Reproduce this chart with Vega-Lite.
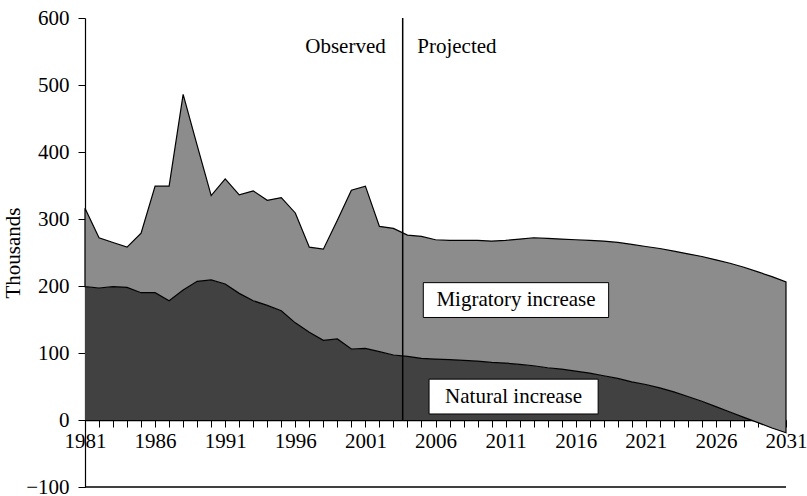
{
  "$schema": "https://vega.github.io/schema/vega-lite/v6.json",
  "autosize": "none",
  "width": 701,
  "height": 469,
  "padding": {"left": 85, "top": 18, "right": 21, "bottom": 9},
  "background": "white",
  "config": {
    "view": {"stroke": null},
    "font": "Liberation Serif",
    "axis": {"labelFont": "Liberation Serif", "titleFont": "Liberation Serif", "labelColor": "black", "titleColor": "black", "domainColor": "black", "tickColor": "black", "grid": false, "labelFontSize": 21, "titleFontSize": 21, "titleFontWeight": "normal"},
    "axisX": {"orient": "bottom", "offset": -67, "zindex": 1, "tickSize": 7, "labelPadding": 3, "domainWidth": 1.5, "labelFlush": false, "labelOverlap": false, "tickCount": 50},
    "axisY": {"tickSize": 7, "labelPadding": 9, "titlePadding": 2, "domainWidth": 1.2}
  },
  "datasets": {
    "series": [
      {"year": 1981, "natural": 199, "total": 316},
      {"year": 1982, "natural": 197, "total": 272},
      {"year": 1983, "natural": 199, "total": 265},
      {"year": 1984, "natural": 198, "total": 258},
      {"year": 1985, "natural": 190, "total": 279},
      {"year": 1986, "natural": 190, "total": 349},
      {"year": 1987, "natural": 178, "total": 349},
      {"year": 1988, "natural": 194, "total": 486},
      {"year": 1989, "natural": 207, "total": 410},
      {"year": 1990, "natural": 209, "total": 335},
      {"year": 1991, "natural": 203, "total": 360},
      {"year": 1992, "natural": 189, "total": 336},
      {"year": 1993, "natural": 178, "total": 342},
      {"year": 1994, "natural": 171, "total": 328},
      {"year": 1995, "natural": 163, "total": 332},
      {"year": 1996, "natural": 145, "total": 309},
      {"year": 1997, "natural": 131, "total": 258},
      {"year": 1998, "natural": 119, "total": 255},
      {"year": 1999, "natural": 121, "total": 298},
      {"year": 2000, "natural": 106, "total": 343},
      {"year": 2001, "natural": 107, "total": 349},
      {"year": 2002, "natural": 102, "total": 289},
      {"year": 2003, "natural": 97, "total": 286},
      {"year": 2004, "natural": 95, "total": 276},
      {"year": 2005, "natural": 92, "total": 274},
      {"year": 2006, "natural": 91, "total": 269},
      {"year": 2007, "natural": 90, "total": 268},
      {"year": 2008, "natural": 89, "total": 268},
      {"year": 2009, "natural": 88, "total": 268},
      {"year": 2010, "natural": 86, "total": 267},
      {"year": 2011, "natural": 85, "total": 268},
      {"year": 2012, "natural": 83, "total": 270},
      {"year": 2013, "natural": 81, "total": 272},
      {"year": 2014, "natural": 78, "total": 271},
      {"year": 2015, "natural": 76, "total": 270},
      {"year": 2016, "natural": 73, "total": 269},
      {"year": 2017, "natural": 70, "total": 268},
      {"year": 2018, "natural": 66, "total": 267},
      {"year": 2019, "natural": 62, "total": 265},
      {"year": 2020, "natural": 57, "total": 262},
      {"year": 2021, "natural": 53, "total": 259},
      {"year": 2022, "natural": 48, "total": 256},
      {"year": 2023, "natural": 42, "total": 252},
      {"year": 2024, "natural": 35, "total": 248},
      {"year": 2025, "natural": 28, "total": 244},
      {"year": 2026, "natural": 20, "total": 239},
      {"year": 2027, "natural": 12, "total": 234},
      {"year": 2028, "natural": 4, "total": 228},
      {"year": 2029, "natural": -4, "total": 221},
      {"year": 2030, "natural": -12, "total": 214},
      {"year": 2031, "natural": -19, "total": 206}
    ],
    "one": [{}]
  },
  "layer": [
    {
      "data": {"name": "series"},
      "mark": {"type": "area", "color": "#414141"},
      "encoding": {
        "x": {"field": "year", "type": "quantitative", "scale": {"domain": [1981, 2031], "nice": false},
          "axis": {"title": null, "labelExpr": "(datum.value - 1981) % 5 == 0 ? format(datum.value, 'd') : ''", "format": "d"}},
        "y": {"field": "natural", "type": "quantitative", "scale": {"domain": [-100, 600], "nice": false, "zero": false},
          "axis": {"title": "Thousands", "values": [-100, 0, 100, 200, 300, 400, 500, 600]}},
        "y2": {"datum": 0}
      }
    },
    {
      "data": {"name": "series"},
      "mark": {"type": "area", "color": "#8c8c8c", "stroke": "black", "strokeWidth": 1.2},
      "encoding": {
        "x": {"field": "year", "type": "quantitative"},
        "y": {"field": "natural", "type": "quantitative"},
        "y2": {"field": "total"}
      }
    },
    {
      "data": {"name": "one"},
      "mark": {"type": "rule", "color": "black", "strokeWidth": 1.5},
      "encoding": {"x": {"datum": 2003.66, "type": "quantitative"}, "y": {"datum": 0, "type": "quantitative"}, "y2": {"datum": 600}}
    },
    {
      "data": {"name": "one"},
      "mark": {"type": "rule", "color": "black", "strokeWidth": 1.5},
      "encoding": {"x": {"datum": 1981, "type": "quantitative"}, "x2": {"datum": 2031}, "y": {"datum": -100, "type": "quantitative"}}
    },
    {
      "data": {"name": "one"},
      "mark": {"type": "text", "font": "Liberation Serif", "fontSize": 21, "align": "right", "baseline": "middle", "fill": "black"},
      "encoding": {"x": {"datum": 2002.45, "type": "quantitative"}, "y": {"datum": 557, "type": "quantitative"}, "text": {"value": "Observed"}}
    },
    {
      "data": {"name": "one"},
      "mark": {"type": "text", "font": "Liberation Serif", "fontSize": 21, "align": "left", "baseline": "middle", "fill": "black"},
      "encoding": {"x": {"datum": 2004.7, "type": "quantitative"}, "y": {"datum": 557, "type": "quantitative"}, "text": {"value": "Projected"}}
    },
    {
      "data": {"name": "one"},
      "mark": {"type": "rect", "fill": "white", "stroke": "black", "strokeWidth": 1},
      "encoding": {"x": {"datum": 2005.13, "type": "quantitative"}, "x2": {"datum": 2018.35}, "y": {"datum": 205, "type": "quantitative"}, "y2": {"datum": 153}}
    },
    {
      "data": {"name": "one"},
      "mark": {"type": "rect", "fill": "white", "stroke": "black", "strokeWidth": 1},
      "encoding": {"x": {"datum": 2005.54, "type": "quantitative"}, "x2": {"datum": 2017.6}, "y": {"datum": 61, "type": "quantitative"}, "y2": {"datum": 9}}
    },
    {
      "data": {"name": "one"},
      "mark": {"type": "text", "font": "Liberation Serif", "fontSize": 21, "align": "center", "baseline": "middle", "fill": "black"},
      "encoding": {"x": {"datum": 2011.74, "type": "quantitative"}, "y": {"datum": 179, "type": "quantitative"}, "text": {"value": "Migratory increase"}}
    },
    {
      "data": {"name": "one"},
      "mark": {"type": "text", "font": "Liberation Serif", "fontSize": 21, "align": "center", "baseline": "middle", "fill": "black"},
      "encoding": {"x": {"datum": 2011.57, "type": "quantitative"}, "y": {"datum": 35, "type": "quantitative"}, "text": {"value": "Natural increase"}}
    }
  ]
}
